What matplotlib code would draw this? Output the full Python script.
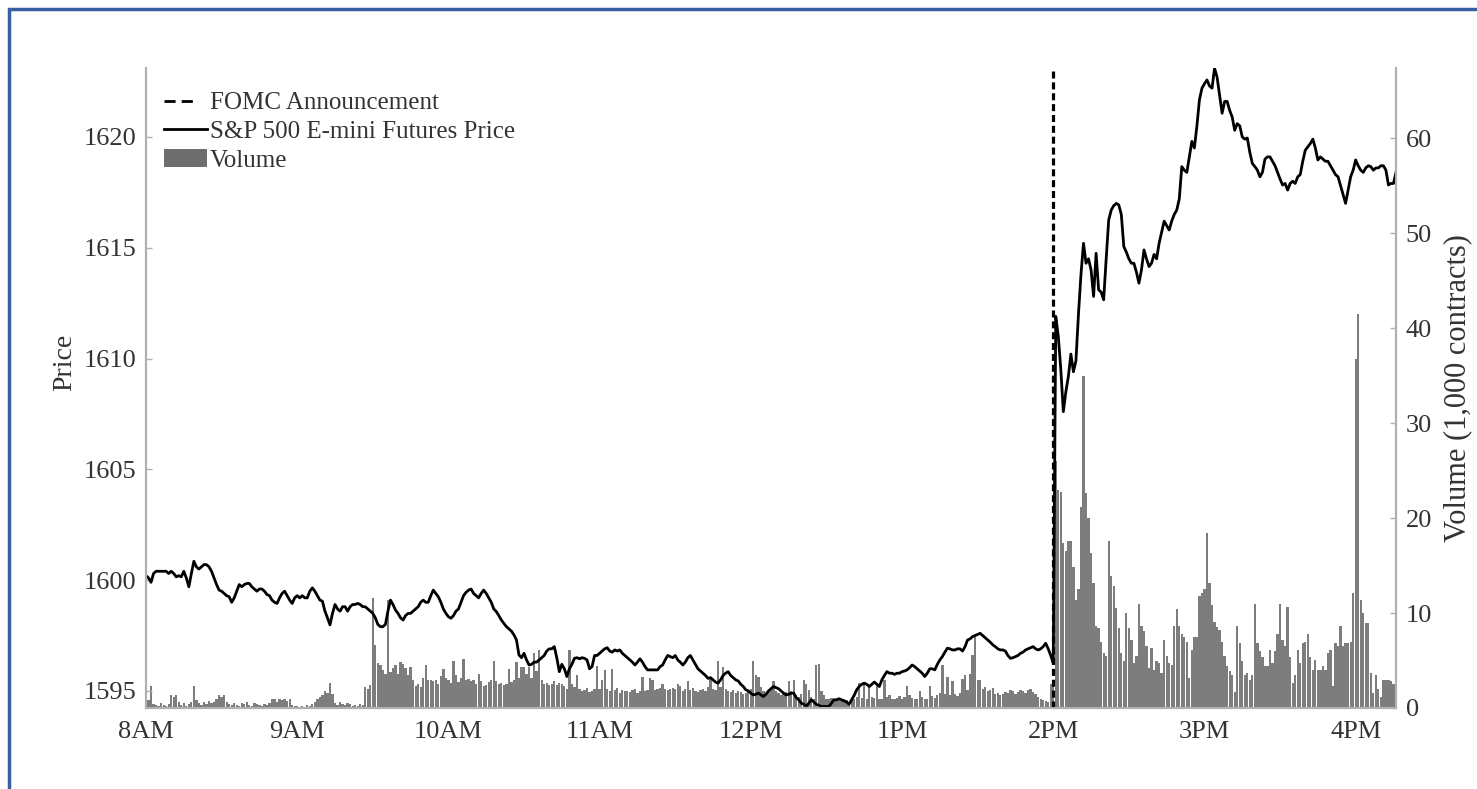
import numpy as np
import matplotlib.pyplot as plt
from matplotlib.lines import Line2D
from matplotlib.patches import Patch, Rectangle

plt.rcParams['font.family'] = ['Liberation Serif', 'DejaVu Serif']

# one value per minute from 8:00AM to 4:16PM
price = [
    1600.2, 1600.1, 1599.9, 1600.3, 1600.4, 1600.4, 1600.4, 1600.4, 1600.4, 1600.3,
    1600.4, 1600.3, 1600.15, 1600.2, 1600.15, 1600.4, 1600.1, 1599.7, 1600.3, 1600.85,
    1600.6, 1600.5, 1600.6, 1600.7, 1600.7, 1600.6, 1600.4, 1600.1, 1599.8, 1599.55,
    1599.5, 1599.4, 1599.3, 1599.25, 1599.0, 1599.2, 1599.5, 1599.8, 1599.7, 1599.8,
    1599.85, 1599.85, 1599.7, 1599.6, 1599.5, 1599.6, 1599.6, 1599.5, 1599.35, 1599.3,
    1599.1, 1599.0, 1598.95, 1599.2, 1599.4, 1599.5, 1599.3, 1599.1, 1598.95, 1599.2,
    1599.3, 1599.2, 1599.3, 1599.2, 1599.2, 1599.5, 1599.65, 1599.5, 1599.3, 1599.1,
    1599.05, 1598.6, 1598.3, 1597.98, 1598.5, 1598.9, 1598.7, 1598.6, 1598.8, 1598.8,
    1598.6, 1598.8, 1598.9, 1598.9, 1598.95, 1598.9, 1598.8, 1598.8, 1598.7, 1598.6,
    1598.5, 1598.3, 1598.0, 1597.9, 1597.9, 1598.0, 1598.6, 1599.1, 1598.9, 1598.65,
    1598.5, 1598.3, 1598.2, 1598.4, 1598.5, 1598.5, 1598.6, 1598.7, 1598.8, 1599.0,
    1599.1, 1599.0, 1599.0, 1599.3, 1599.55, 1599.4, 1599.25, 1599.0, 1598.7, 1598.5,
    1598.35, 1598.28, 1598.4, 1598.6, 1598.7, 1599.0, 1599.3, 1599.45, 1599.55, 1599.6,
    1599.4, 1599.3, 1599.2, 1599.4, 1599.55, 1599.4, 1599.2, 1599.0, 1598.7, 1598.58,
    1598.4, 1598.2, 1598.05, 1597.9, 1597.8, 1597.7, 1597.53, 1597.3, 1596.62, 1596.5,
    1596.7, 1596.4, 1596.17, 1596.2, 1596.3, 1596.3, 1596.4, 1596.5, 1596.6, 1596.8,
    1596.9, 1596.9, 1597.0, 1596.5, 1595.87, 1596.2, 1596.0, 1595.65, 1596.0, 1596.2,
    1596.47, 1596.5, 1596.45, 1596.5, 1596.47, 1596.4, 1596.0, 1596.1, 1596.6, 1596.6,
    1596.7, 1596.8, 1596.9, 1596.95, 1596.8, 1596.75, 1596.85, 1596.8, 1596.85, 1596.7,
    1596.6, 1596.5, 1596.4, 1596.3, 1596.17, 1596.3, 1596.45, 1596.3, 1596.1, 1595.95,
    1595.95, 1595.95, 1595.95, 1595.95, 1596.1, 1596.17, 1596.4, 1596.6, 1596.55, 1596.5,
    1596.6, 1596.4, 1596.3, 1596.17, 1596.3, 1596.5, 1596.6, 1596.4, 1596.2, 1596.0,
    1595.9, 1595.8, 1595.7, 1595.57, 1595.6, 1595.5, 1595.4, 1595.35, 1595.5, 1595.7,
    1595.8, 1595.87, 1595.7, 1595.6, 1595.5, 1595.45, 1595.3, 1595.2, 1595.05, 1595.0,
    1594.9, 1594.82, 1594.85, 1594.9, 1594.82, 1594.75, 1594.85, 1595.0, 1595.1, 1595.2,
    1595.15, 1595.1, 1595.0, 1594.9, 1594.82, 1594.85, 1594.9, 1594.9, 1594.7, 1594.6,
    1594.45, 1594.4, 1594.3, 1594.45, 1594.6, 1594.5, 1594.4, 1594.35, 1594.3, 1594.3,
    1594.3, 1594.3, 1594.45, 1594.6, 1594.6, 1594.65, 1594.6, 1594.55, 1594.5, 1594.4,
    1594.6, 1594.8, 1595.05, 1595.2, 1595.3, 1595.35, 1595.3, 1595.2, 1595.3, 1595.4,
    1595.3, 1595.2, 1595.5, 1595.7, 1595.87, 1595.8, 1595.8, 1595.75, 1595.8, 1595.8,
    1595.87, 1595.9, 1595.95, 1596.05, 1596.17, 1596.1, 1596.0, 1595.9, 1595.8, 1595.65,
    1595.8, 1596.0, 1596.0, 1595.95, 1596.2, 1596.4, 1596.55, 1596.75, 1596.93, 1596.9,
    1596.85, 1596.85, 1596.9, 1596.9, 1596.8, 1597.0, 1597.3, 1597.35, 1597.45, 1597.5,
    1597.55, 1597.6, 1597.5, 1597.4, 1597.3, 1597.2, 1597.08, 1597.0, 1596.9, 1596.85,
    1596.85, 1596.8, 1596.6, 1596.47, 1596.5, 1596.55, 1596.6, 1596.7, 1596.75, 1596.85,
    1596.9, 1596.95, 1597.0, 1596.9, 1596.85, 1596.9, 1597.0, 1597.15, 1596.9, 1596.6,
    1596.25, 1611.9, 1611.0, 1609.5, 1607.6, 1608.5, 1609.2, 1610.2, 1609.4, 1609.9,
    1612.0, 1613.8, 1615.2, 1614.3, 1614.5, 1614.0, 1612.8, 1614.75, 1613.1, 1613.0,
    1612.65, 1614.5, 1616.25, 1616.7, 1616.9, 1617.0, 1616.93, 1616.5, 1615.05, 1614.8,
    1614.5, 1614.3, 1614.3, 1613.9, 1613.4, 1614.0, 1614.9, 1614.5, 1614.15, 1614.3,
    1614.7, 1614.5, 1615.2, 1615.7, 1616.2, 1616.0, 1615.8, 1616.2, 1616.5, 1616.7,
    1617.2, 1618.66, 1618.5, 1618.4, 1619.1, 1619.8, 1619.5, 1620.5, 1621.67, 1622.2,
    1622.4, 1622.57, 1622.3, 1622.2, 1623.1, 1622.7, 1621.9, 1621.07, 1621.6, 1621.6,
    1621.2, 1620.9, 1620.3, 1620.6, 1620.5, 1620.0, 1619.9, 1619.95, 1619.3, 1618.8,
    1618.66, 1618.5, 1618.2, 1618.4, 1619.0, 1619.1, 1619.1, 1618.9, 1618.7, 1618.4,
    1618.1, 1617.83, 1617.9, 1617.6, 1617.9, 1618.0, 1617.9, 1618.2, 1618.3, 1618.9,
    1619.4, 1619.55, 1619.7, 1619.9, 1619.5, 1618.96, 1619.1, 1619.0, 1618.9, 1618.9,
    1618.7, 1618.5, 1618.3, 1618.2, 1617.8, 1617.4, 1617.0, 1617.6, 1618.2, 1618.5,
    1618.96, 1618.7, 1618.5, 1618.4, 1618.6, 1618.7, 1618.66, 1618.5, 1618.6, 1618.6,
    1618.7, 1618.7, 1618.5, 1617.83, 1617.9, 1617.9, 1618.4,
]

# contracts traded per minute, in thousands
volume = [
    2.3, 0.8, 2.3, 0.4, 0.3, 0.2, 0.5, 0.3, 0.2, 0.4,
    1.4, 1.2, 1.4, 0.6, 0.3, 0.5, 0.2, 0.4, 0.6, 2.3,
    0.8, 0.5, 0.3, 0.6, 0.4, 0.7, 0.5, 0.6, 0.9, 1.4,
    1.2, 1.4, 0.6, 0.4, 0.3, 0.5, 0.3, 0.2, 0.5, 0.4,
    0.6, 0.3, 0.2, 0.5, 0.4, 0.3, 0.2, 0.4, 0.3, 0.5,
    0.9, 1.0, 0.6, 1.0, 0.8, 1.0, 0.7, 0.9, 0.3, 0.2,
    0.2, 0.1, 0.2, 0.1, 0.3, 0.2, 0.4, 0.6, 0.9, 1.2,
    1.4, 1.8, 1.6, 2.6, 1.5, 0.5, 0.3, 0.6, 0.4, 0.3,
    0.5, 0.4, 0.2, 0.3, 0.2, 0.4, 0.3, 2.2, 2.0, 2.4,
    11.6, 6.6, 4.7, 4.5, 4.0, 3.6, 11.4, 3.8, 4.2, 4.5,
    3.6, 4.8, 4.6, 4.2, 3.5, 4.3, 3.0, 2.3, 2.5, 2.2,
    3.2, 4.5, 3.0, 2.9, 2.8, 2.9, 2.5, 3.4, 4.1, 3.2,
    3.0, 2.6, 4.9, 3.5, 2.7, 3.2, 5.2, 3.0, 3.1, 2.8,
    3.0, 2.5, 3.6, 2.8, 2.3, 2.4, 2.7, 3.0, 4.9, 2.8,
    2.5, 2.6, 2.4, 2.5, 4.1, 2.7, 3.0, 4.8, 3.2, 4.3,
    4.3, 3.6, 4.3, 3.2, 5.8, 3.9, 6.1, 3.0, 2.5, 2.6,
    2.4, 2.5, 2.8, 2.4, 2.6, 2.5, 2.3, 2.0, 6.1, 2.5,
    2.2, 3.5, 2.0, 1.8, 1.9, 2.1, 1.7, 1.8, 2.0, 4.4,
    2.0, 3.0, 4.0, 2.0, 1.8, 4.1, 1.9, 2.1, 1.6, 1.9,
    1.8, 1.8, 1.7, 1.9, 2.0, 1.6, 1.8, 3.3, 1.8, 1.9,
    3.2, 3.0, 1.9, 2.0, 2.1, 2.5, 2.0, 1.9, 2.0, 2.1,
    2.0, 2.5, 2.3, 1.8, 2.0, 2.8, 1.9, 2.1, 1.8, 1.7,
    1.9, 2.0, 1.8, 2.2, 3.2, 2.0, 1.9, 4.9, 2.2, 4.3,
    2.0, 1.8, 1.7, 1.9, 1.6, 1.8, 1.7, 1.5, 1.6, 1.8,
    2.0, 4.9, 3.5, 3.3, 2.2, 1.8, 1.6, 1.7, 1.9, 2.8,
    1.8, 1.6, 1.4, 1.5, 1.7, 2.8, 1.8, 2.9, 1.4, 1.2,
    1.5, 2.9, 2.5, 1.9, 1.2, 1.0, 4.5, 4.6, 1.8, 1.4,
    1.0, 0.9, 1.1, 0.8, 1.0, 0.9, 0.7, 1.0, 0.8, 0.6,
    0.9, 1.0, 1.2, 2.6, 1.1, 2.5, 1.0, 2.3, 1.2, 1.1,
    2.6, 1.0, 0.9, 3.0, 1.2, 1.4, 1.0, 0.9, 1.1, 1.3,
    1.0, 1.2, 2.3, 1.4, 1.1, 0.9, 1.0, 1.8, 1.2, 0.9,
    1.0, 2.3, 1.3, 1.1, 1.4, 1.6, 4.5, 1.5, 3.3, 1.4,
    2.8, 1.5, 1.3, 1.6, 3.1, 3.5, 1.9, 3.6, 5.6, 7.7,
    2.9, 3.0, 2.0, 2.2, 1.8, 1.9, 2.1, 1.5, 1.6, 1.4,
    1.5, 1.7, 1.6, 1.9, 1.8, 1.5, 1.7, 1.9, 1.8, 1.6,
    1.9, 2.0, 1.7, 1.5, 1.2, 1.0, 0.8, 0.7, 0.6, 2.5,
    3.0, 26.0, 23.0, 22.8, 17.4, 16.5, 17.6, 17.6, 14.9, 11.4,
    12.5, 21.2, 35.0, 22.6, 20.0, 16.3, 13.2, 8.6, 8.4, 7.0,
    5.8, 5.5, 17.6, 13.9, 12.8, 10.5, 8.4, 5.8, 5.0, 10.0,
    8.4, 7.2, 4.7, 5.5, 11.0, 8.6, 8.1, 6.5, 4.2, 6.3,
    4.0, 5.0, 4.7, 3.7, 7.2, 5.5, 4.7, 4.5, 8.6, 10.4,
    8.6, 7.8, 7.5, 7.0, 3.2, 6.1, 7.5, 7.5, 11.8, 12.1,
    12.5, 18.4, 13.2, 10.8, 9.1, 8.5, 8.2, 7.0, 5.5, 4.4,
    3.9, 3.5, 1.7, 8.6, 6.8, 5.0, 3.5, 3.7, 2.9, 3.5,
    10.9, 6.8, 6.0, 5.4, 4.4, 4.4, 6.1, 4.7, 6.0, 7.8,
    11.0, 7.2, 6.5, 10.6, 5.4, 2.6, 3.5, 6.1, 4.7, 6.8,
    7.0, 7.8, 5.4, 4.0, 5.1, 4.0, 4.0, 4.4, 4.0, 5.8,
    6.1, 2.3, 6.8, 6.5, 8.6, 6.5, 6.8, 6.8, 7.0, 12.1,
    36.8, 41.5, 11.4, 10.0, 9.0, 9.0, 3.7, 1.6, 3.5, 2.0,
    1.2, 3.0, 3.0, 3.0, 2.8, 2.5, 2.5,
]

hour_labels = ['8AM', '9AM', '10AM', '11AM', '12PM', '1PM', '2PM', '3PM', '4PM']
fomc_minute = 360

minutes = np.arange(len(price))
text_color = '#333333'
spine_color = '#b0b0b0'

fig = plt.figure(figsize=(14.77, 7.89), dpi=100)
ax = fig.add_axes([146 / 1477, 1 - 708 / 789, 1250 / 1477, 640 / 789])
ax2 = ax.twinx()

ax2.bar(minutes, volume, width=0.9, color='#7d7d7d', linewidth=0)
ax.plot(minutes, price, color='black', lw=2)
ax.axvline(fomc_minute, color='black', lw=2.3, linestyle=(0, (2.2, 1.2)))

ax.set_zorder(ax2.get_zorder() + 1)
ax.patch.set_visible(False)

ax.set_xlim(0, 496)
ax.set_ylim(1594.23, 1623.11)
ax2.set_ylim(0, 67.4)

ax.set_xticks(np.arange(0, 481, 60))
ax.set_xticklabels(hour_labels)
ax.set_yticks([1595, 1600, 1605, 1610, 1615, 1620])
ax2.set_yticks(np.arange(0, 61, 10))

for a in (ax, ax2):
    a.spines['top'].set_visible(False)
    for s in ('left', 'right', 'bottom'):
        a.spines[s].set_color(spine_color)
        a.spines[s].set_linewidth(1.5)
    a.tick_params(direction='in', length=4, width=1, color=spine_color,
                  labelsize=19, labelcolor=text_color, pad=7)
ax.tick_params(axis='x', length=0, pad=9)

ax.set_ylabel('Price', fontsize=20, color=text_color)
ax.yaxis.set_label_coords(-0.055, 0.54)
ax2.set_ylabel('Volume (1,000 contracts)', fontsize=22, color=text_color, labelpad=8)

handles = [
    Line2D([], [], color='black', lw=2, linestyle=(0, (4, 2.2, 4, 30))),
    Line2D([], [], color='black', lw=2),
    Patch(facecolor='#6e6e6e', edgecolor='none'),
]
labels = ['FOMC Announcement', 'S&P 500 E-mini Futures Price', 'Volume']
ax.legend(handles, labels, loc='upper left', bbox_to_anchor=(0.0, 0.99),
          frameon=False, fontsize=18, handlelength=1.75, handletextpad=0.1,
          labelspacing=0.25, borderaxespad=0.3, labelcolor=text_color)

# blue frame around the figure
fig.patches.append(Rectangle((9 / 1477, -0.5), 2.0, 1.5 - 9 / 789,
                             transform=fig.transFigure, fill=False,
                             edgecolor='#3561a0', lw=2.5))

fig.savefig('out.png', dpi=100)
